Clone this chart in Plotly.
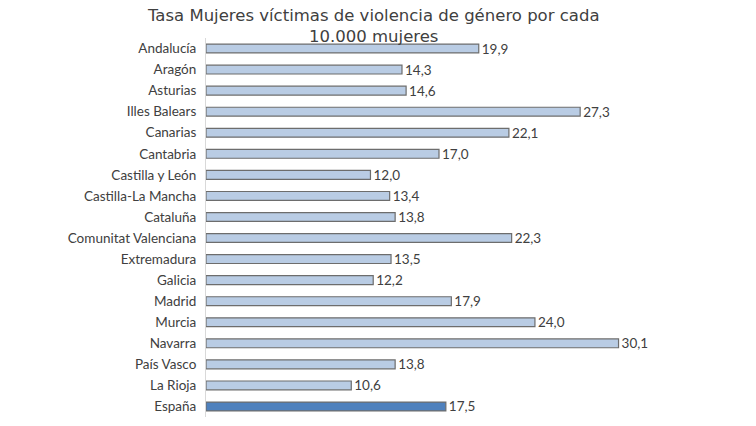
import plotly.graph_objects as go

regions = ["Andalucía", "Aragón", "Asturias", "Illes Balears", "Canarias", "Cantabria",
           "Castilla y León", "Castilla-La Mancha", "Cataluña", "Comunitat Valenciana",
           "Extremadura", "Galicia", "Madrid", "Murcia", "Navarra", "País Vasco",
           "La Rioja", "España"]
rates = [19.9, 14.3, 14.6, 27.3, 22.1, 17.0, 12.0, 13.4, 13.8, 22.3,
         13.5, 12.2, 17.9, 24.0, 30.1, 13.8, 10.6, 17.5]

colors = ["#b9cce4"] * (len(regions) - 1) + ["#4f81bd"]
labels = [f"{v:.1f}".replace(".", ",") for v in rates]

fig = go.Figure(go.Bar(
    x=rates, y=regions, orientation="h",
    marker=dict(color=colors, line=dict(color="#6d6d6d", width=1.2)),
    width=0.42,
    text=labels, textposition="outside", cliponaxis=False, constraintext="none",
    textfont=dict(size=13.5, color="#404040"),
))

fig.update_layout(
    width=756, height=426,
    paper_bgcolor="white", plot_bgcolor="white",
    margin=dict(l=198, r=92, t=30, b=17, autoexpand=False),
    font=dict(family="Lato, Open Sans, sans-serif", size=13.5, color="#404040"),
    showlegend=False,
)
fig.add_annotation(
    text="Tasa Mujeres víctimas de violencia de género por cada<br>10.000 mujeres",
    xref="paper", yref="paper", x=0.36, y=1.0, xanchor="center", yanchor="bottom",
    yshift=-10, showarrow=False,
    font=dict(family="DejaVu Sans", size=16.5, color="#404040"),
)
fig.update_xaxes(range=[0, 34], visible=False)
fig.update_yaxes(autorange="reversed", showline=True, linecolor="#d9d9d9",
                 ticks="", ticklabelstandoff=6)

fig.write_html("out.html")
